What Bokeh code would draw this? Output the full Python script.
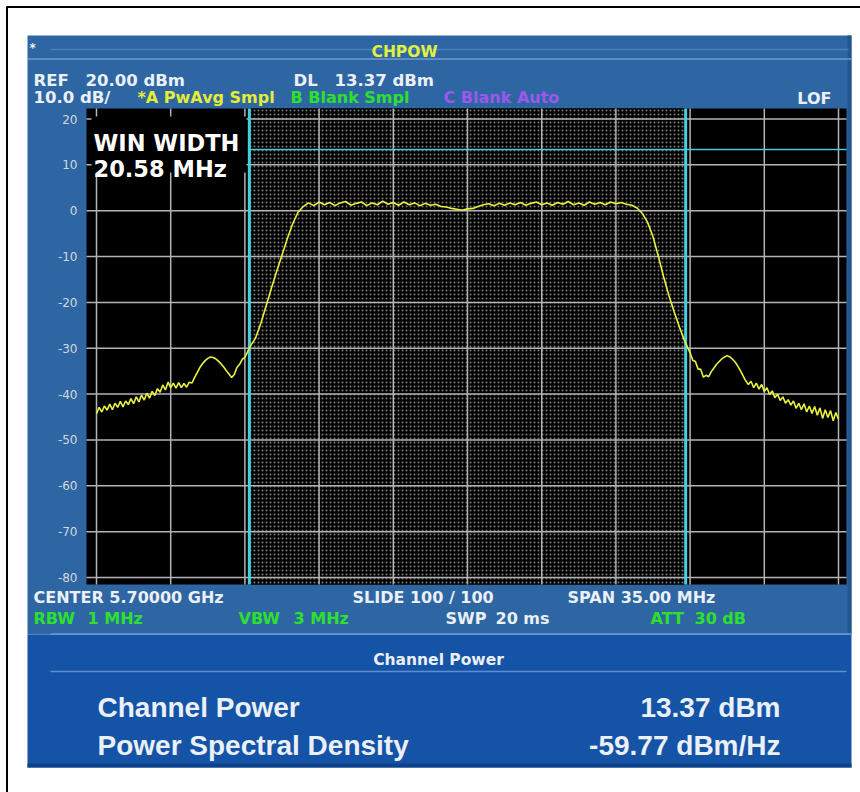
from bokeh.plotting import figure
from bokeh.models import Range1d
from bokeh.core.properties import value
from bokeh.embed import file_html
from bokeh.resources import INLINE

center_ghz = 5.70000
span_mhz = 35.00
ref_level_dbm = 20.00
scale_db_per_div = 10.0
win_width_mhz = 20.58
display_line_dbm = 13.37
channel_power_dbm = 13.37
psd_dbm_hz = -59.77

freq_offset_mhz = [
    -17.5, -17.375, -17.25, -17.125, -17.0, -16.875, -16.75, -16.625, -16.5, -16.375,
    -16.25, -16.125, -16.0, -15.875, -15.75, -15.625, -15.5, -15.375, -15.25, -15.125,
    -15.0, -14.875, -14.75, -14.625, -14.5, -14.375, -14.25, -14.125, -14.0, -13.875,
    -13.75, -13.625, -13.5, -13.375, -13.25, -13.125, -13.0, -12.875, -12.75, -12.625,
    -12.5, -12.375, -12.25, -12.125, -12.0, -11.875, -11.75, -11.625, -11.5, -11.375,
    -11.25, -11.125, -11.0, -10.875, -10.75, -10.625, -10.5,
    -10.25, -10.0, -9.75, -9.5, -9.25, -9.0, -8.75, -8.5, -8.25, -8.0,
    -7.75, -7.5, -7.25, -7.0, -6.75, -6.5, -6.25, -6.0, -5.75, -5.5,
    -5.25, -5.0, -4.75, -4.5, -4.25, -4.0, -3.75, -3.5, -3.25, -3.0,
    -2.75, -2.5, -2.25, -2.0, -1.75, -1.5, -1.25, -1.0, -0.75, -0.5,
    -0.25, 0.0, 0.25, 0.5, 0.75, 1.0, 1.25, 1.5, 1.75, 2.0,
    2.25, 2.5, 2.75, 3.0, 3.25, 3.5, 3.75, 4.0, 4.25, 4.5,
    4.75, 5.0, 5.25, 5.5, 5.75, 6.0, 6.25, 6.5, 6.75, 7.0,
    7.25, 7.5, 7.75, 8.0, 8.25, 8.5, 8.75, 9.0, 9.25, 9.5,
    9.75, 10.0, 10.25,
    10.5, 10.625, 10.75, 10.875, 11.0, 11.125, 11.25, 11.375, 11.5, 11.625,
    11.75, 11.875, 12.0, 12.125, 12.25, 12.375, 12.5, 12.625, 12.75, 12.875,
    13.0, 13.125, 13.25, 13.375, 13.5, 13.625, 13.75, 13.875, 14.0, 14.125,
    14.25, 14.375, 14.5, 14.625, 14.75, 14.875, 15.0, 15.125, 15.25, 15.375,
    15.5, 15.625, 15.75, 15.875, 16.0, 16.125, 16.25, 16.375, 16.5, 16.625,
    16.75, 16.875, 17.0, 17.125, 17.25, 17.375, 17.5,
]

level_dbm = [
    -44.3, -42.9, -43.9, -42.6, -43.5, -42.2, -43.4, -42.0, -42.9, -41.6,
    -42.8, -41.5, -42.3, -41.0, -42.1, -40.6, -41.7, -40.2, -41.3, -39.8,
    -40.9, -39.4, -40.3, -38.8, -39.6, -38.0, -39.1, -37.4, -38.6, -37.6,
    -38.7, -37.5, -38.6, -37.7, -38.5, -37.4, -37.6, -36.4, -35.3, -34.2,
    -33.4, -32.7, -32.2, -31.9, -32.0, -32.3, -32.8, -33.4, -34.1, -34.9,
    -35.6, -36.4, -35.7, -34.2, -33.5, -32.4, -32.0,
    -29.6, -27.8, -24.6, -20.8, -16.9, -13.2, -9.7, -6.1, -2.9, -0.4,
    0.9, 1.7, 1.1, 1.9, 1.3, 1.8, 1.1, 1.7, 2.0, 1.2,
    1.6, 1.9, 1.1, 1.7, 1.3, 2.1, 1.4, 1.8, 1.2, 1.9,
    1.3, 1.7, 1.1, 1.6, 1.2, 1.4, 0.9, 0.8, 0.5, 0.3,
    0.1, 0.4, 0.5, 0.9, 1.3, 1.5, 1.1, 1.6, 1.2, 1.7,
    1.3, 1.8, 1.2, 1.6, 1.9, 1.3, 1.7, 1.2, 1.8, 1.4,
    2.0, 1.3, 1.7, 1.2, 1.9, 1.4, 1.8, 1.3, 1.9, 1.5,
    1.8, 1.4, 1.2, 0.6, -0.6, -2.6, -5.7, -9.9, -14.4, -18.5,
    -22.1, -25.4, -28.5,
    -31.0, -32.6, -32.9, -34.5, -34.6, -36.3, -35.9, -36.2, -35.1, -34.3,
    -33.5, -32.9, -32.3, -31.9, -31.6, -31.9, -32.4, -33.0, -33.9, -34.9,
    -36.0, -37.1, -37.9, -37.2, -38.6, -37.6, -38.9, -37.9, -39.4, -38.6,
    -40.1, -39.3, -40.8, -40.0, -41.4, -40.6, -42.0, -41.2, -42.4, -41.5,
    -43.1, -42.0, -43.4, -42.1, -43.9, -42.6, -44.2, -42.7, -44.6, -43.0,
    -45.3, -43.4, -45.1, -43.6, -45.8, -44.0, -45.5,
]

y_ticks_db = [20, 10, 0, -10, -20, -30, -40, -50, -60, -70, -80]
x_grid_mhz = [-17.5, -14.0, -10.5, -7.0, -3.5, 0.0, 3.5, 7.0, 10.5, 14.0, 17.5]

# ---------------- page geometry (pixels) ----------------
W, H = 860, 792
PX0, PY0 = 0, 0
GX_L, GX_R = 96, 838          # pixel x of first / last vertical gridline
GY_T, GY_B = 118.5, 577       # pixel y of top / bottom horizontal gridline
AREA_L, AREA_R, AREA_T, AREA_B = 86, 846, 108, 584

mhz_per_px = (x_grid_mhz[-1] - x_grid_mhz[0]) / (GX_R - GX_L)
db_per_px = (y_ticks_db[0] - y_ticks_db[-1]) / (GY_B - GY_T)


def px2mhz(px):
    return x_grid_mhz[0] + (px - GX_L) * mhz_per_px


def px2db(py):
    return y_ticks_db[0] - (py - GY_T) * db_per_px


p = figure(width=W, height=H, output_backend="svg", toolbar_location=None,
           x_range=Range1d(px2mhz(PX0), px2mhz(PX0 + W)),
           y_range=Range1d(px2db(PY0 + H), px2db(PY0)),
           x_axis_type=None, y_axis_type=None, min_border=0, title=None)
p.extra_x_ranges = {"px": Range1d(PX0, PX0 + W)}
p.extra_y_ranges = {"px": Range1d(PY0 + H, PY0)}
p.background_fill_color = "white"
p.border_fill_color = "white"
p.outline_line_color = None

PX = dict(x_range_name="px", y_range_name="px")

# outer black frame (top / left visible)
p.segment(x0=[6, 6.5], y0=[6.5, 6], x1=[W, 6.5], y1=[6.5, H],
          line_color="black", line_width=2, **PX)

# blue instrument panels
p.quad(left=[27], right=[851], top=[35], bottom=[634], fill_color="#2e66a4", line_color=None, **PX)
p.quad(left=[27], right=[851], top=[634], bottom=[767], fill_color="#1553a7", line_color=None, **PX)
p.quad(left=[847], right=[851], top=[35], bottom=[634], fill_color="#22568f", line_color=None, **PX)
p.quad(left=[27], right=[851], top=[763], bottom=[767], fill_color="#0e438c", line_color=None, **PX)
# separators
p.segment(x0=[50, 27, 50, 50], y0=[49, 58.5, 633.5, 671], x1=[848, 851, 851, 846], y1=[49, 58.5, 633.5, 671],
          line_color=["#4a7fba", "#6c9bd2", "#6c9bd2", "#5d8fcf"], line_width=1.5, **PX)

# spectrum display area
p.quad(left=[AREA_L], right=[AREA_R], top=[AREA_T], bottom=[AREA_B], fill_color="black", line_color=None, **PX)

# measurement window (dotted)
half = win_width_mhz / 2
p.quad(left=[-half], right=[half], top=[px2db(AREA_T)], bottom=[px2db(AREA_B)],
       fill_color="black", line_color=None, hatch_pattern="dot", hatch_color="#7c7c7c",
       hatch_scale=4, hatch_weight=0.9)

# graticule
n = len(x_grid_mhz)
p.segment(x0=x_grid_mhz, x1=x_grid_mhz, y0=[AREA_T] * n, y1=[AREA_B] * n,
          y_range_name="px", line_color="#b4b4b4", line_width=1.5)
m = len(y_ticks_db)
p.segment(x0=[AREA_L] * m, x1=[AREA_R] * m, y0=y_ticks_db, y1=y_ticks_db,
          x_range_name="px", line_color="#b4b4b4", line_width=1.5)

# WIN WIDTH box
p.quad(left=[91], right=[246], top=[116], bottom=[172], fill_color="black", line_color=None, **PX)

# display line and window edges
p.segment(x0=[-half], x1=[px2mhz(AREA_R)], y0=[display_line_dbm], y1=[display_line_dbm],
          line_color="#52c8d8", line_width=1.5)
p.segment(x0=[-half, half], x1=[-half, half], y0=[AREA_T, AREA_T], y1=[AREA_B, AREA_B],
          y_range_name="px", line_color="#46cde0", line_width=3)

# trace
p.line(freq_offset_mhz, level_dbm, line_color="#e8f23e", line_width=1.6)

# y tick labels
p.text(x=[77] * m, y=y_ticks_db, text=[str(v) for v in y_ticks_db], x_range_name="px",
       text_align="right", text_baseline="middle", text_color="#d4d8dc",
       text_font=value("DejaVu Sans"), text_font_size=value("12px"))


def txt(x, y, s, color, size, font="DejaVu Sans", align="left", style="bold"):
    p.text(x=[x], y=[y], text=[s], text_color=color, text_align=align,
           text_baseline="alphabetic", text_font=value(font), text_font_style=style,
           text_font_size=value(size), **PX)


WHITE = "#eaf0f6"
GREEN = "#2ee02e"
YELLOW = "#e6ec34"

txt(29, 47, "*", WHITE, "12px")
txt(404, 51, "CHPOW", "#e2f03e", "15.5px", align="center")
txt(33, 80, "REF", WHITE, "16.5px")
txt(85, 80, f"{ref_level_dbm:.2f} dBm", WHITE, "16.5px")
txt(293, 80, "DL", WHITE, "16.5px")
txt(334, 80, f"{display_line_dbm:.2f} dBm", WHITE, "16.5px")
txt(33, 97, f"{scale_db_per_div:.1f} dB/", WHITE, "16.5px")
txt(137, 97, "*A PwAvg Smpl", YELLOW, "16px")
txt(290, 97, "B Blank Smpl", GREEN, "16px")
txt(443, 97, "C Blank Auto", "#9c58ec", "16px")
txt(831, 98, "LOF", WHITE, "16px", align="right")

txt(93, 142, "WIN WIDTH", "white", "22.5px")
txt(93, 168, f"{win_width_mhz:.2f} MHz", "white", "22.5px")

txt(33, 597, f"CENTER {center_ghz:.5f} GHz", WHITE, "16px")
txt(352, 597, "SLIDE 100 / 100", WHITE, "16px")
txt(567, 597, f"SPAN {span_mhz:.2f} MHz", WHITE, "16px")
txt(33, 618, "RBW", GREEN, "16px")
txt(87, 618, "1 MHz", GREEN, "16px")
txt(238, 618, "VBW", GREEN, "16px")
txt(293, 618, "3 MHz", GREEN, "16px")
txt(445, 618, "SWP", WHITE, "16px")
txt(495, 618, "20 ms", WHITE, "16px")
txt(650, 618, "ATT", GREEN, "16px")
txt(694, 618, "30 dB", GREEN, "16px")

txt(438, 659, "Channel Power", WHITE, "15.5px", align="center")
txt(97, 707, "Channel Power", WHITE, "28px", font="Liberation Sans")
txt(97, 745, "Power Spectral Density", WHITE, "28px", font="Liberation Sans")
txt(780, 707, f"{channel_power_dbm:.2f} dBm", WHITE, "28px", font="Liberation Sans", align="right")
txt(780, 745, f"{psd_dbm_hz:.2f} dBm/Hz", WHITE, "28px", font="Liberation Sans", align="right")

open("out.html", "w").write(file_html(p, INLINE))
